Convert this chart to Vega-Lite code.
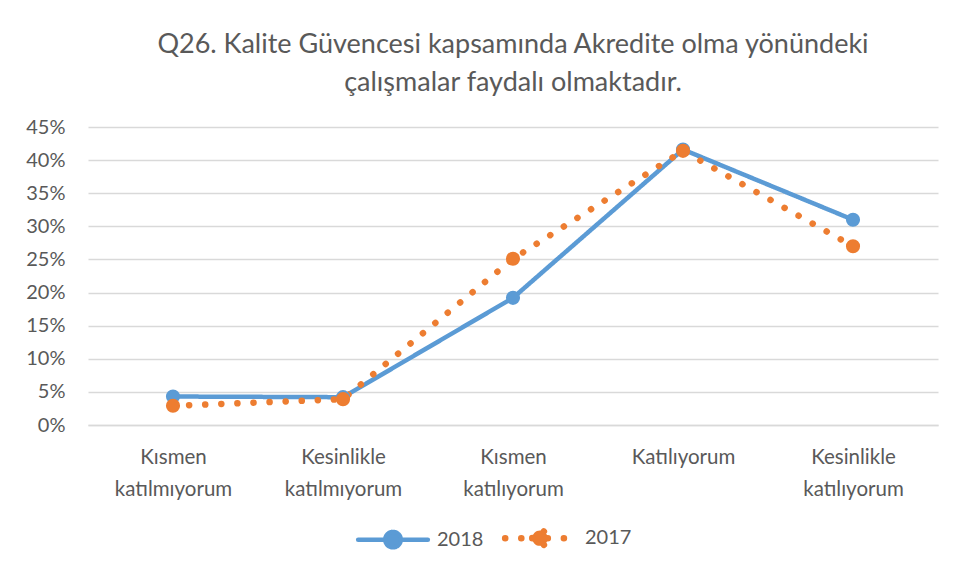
{
  "$schema": "https://vega.github.io/schema/vega-lite/v6.json",
  "width": 850,
  "height": 298,
  "autosize": "none",
  "padding": {"left": 88, "top": 127, "right": 15, "bottom": 152},
  "background": "white",
  "config": {
    "font": "Lato",
    "view": {"stroke": null},
    "legend": {"padding": 0}
  },
  "title": {
    "text": ["Q26. Kalite Güvencesi kapsamında Akredite olma yönündeki", "çalışmalar faydalı olmaktadır."],
    "fontSize": 27,
    "fontWeight": "normal",
    "color": "#595959",
    "lineHeight": 38,
    "offset": 20,
    "anchor": "middle",
    "frame": "group"
  },
  "data": {
    "values": [
      {"cat": "Kısmen katılmıyorum", "year": "2018", "value": 0.043},
      {"cat": "Kesinlikle katılmıyorum", "year": "2018", "value": 0.042},
      {"cat": "Kısmen katılıyorum", "year": "2018", "value": 0.192},
      {"cat": "Katılıyorum", "year": "2018", "value": 0.416},
      {"cat": "Kesinlikle katılıyorum", "year": "2018", "value": 0.31},
      {"cat": "Kısmen katılmıyorum", "year": "2017", "value": 0.029},
      {"cat": "Kesinlikle katılmıyorum", "year": "2017", "value": 0.039},
      {"cat": "Kısmen katılıyorum", "year": "2017", "value": 0.251},
      {"cat": "Katılıyorum", "year": "2017", "value": 0.414},
      {"cat": "Kesinlikle katılıyorum", "year": "2017", "value": 0.27}
    ]
  },
  "encoding": {
    "x": {
      "field": "cat",
      "type": "nominal",
      "sort": null,
      "scale": {"type": "point", "padding": 0.5},
      "axis": {
        "title": null,
        "labelAngle": 0,
        "labelExpr": "split(datum.label, ' ')",
        "labelFontSize": 20.5,
        "labelLineHeight": 32,
        "labelColor": "#595959",
        "labelPadding": 32,
        "labelBaseline": "middle",
        "ticks": false,
        "domain": true,
        "domainColor": "#d9d9d9",
        "domainWidth": 1.3
      }
    },
    "y": {
      "field": "value",
      "type": "quantitative",
      "scale": {"domain": [0, 0.45], "nice": false},
      "axis": {
        "title": null,
        "format": ".0%",
        "values": [0, 0.05, 0.1, 0.15, 0.2, 0.25, 0.3, 0.35, 0.4, 0.45],
        "labelFontSize": 20,
        "labelColor": "#595959",
        "labelPadding": 23,
        "ticks": false,
        "domain": false,
        "gridColor": "#d9d9d9",
        "gridWidth": 1.3
      }
    },
    "color": {
      "field": "year",
      "type": "nominal",
      "sort": ["2018", "2017"],
      "scale": {"domain": ["2018", "2017"], "range": ["#5B9BD5", "#ED7D31"]},
      "legend": {
        "title": null,
        "orient": "none",
        "legendX": 283,
        "legendY": 388,
        "direction": "horizontal",
        "labelFontSize": 20,
        "labelColor": "#595959",
        "symbolType": "M-1.8,0L-0.4,0M0.4,0L1.8,0M-0.4,0A0.4,0.4 0 1,0 0.4,0A0.4,0.4 0 1,0 -0.4,0Z",
        "symbolSize": 1500,
        "symbolStrokeWidth": 5,
        "columnPadding": 8,
        "labelOffset": 22,
        "encode": {
          "symbols": {
            "update": {
              "strokeCap": {"value": "round"},
              "fill": {"scale": "color", "field": "value"},
              "fillOpacity": {"value": 1},
              "opacity": {"value": 1}
            }
          }
        }
      }
    }
  },
  "layer": [
    {
      "mark": {"type": "line", "strokeCap": "round", "strokeJoin": "round"},
      "encoding": {
        "strokeDash": {
          "field": "year",
          "type": "nominal",
          "scale": {"domain": ["2018", "2017"], "range": [[1, 0], [0.1, 16]]},
          "legend": null
        },
        "strokeWidth": {
          "field": "year",
          "type": "nominal",
          "scale": {"domain": ["2018", "2017"], "range": [4.5, 6.5]},
          "legend": null
        }
      }
    },
    {
      "mark": {"type": "point", "filled": true, "opacity": 1, "size": 200}
    }
  ]
}
